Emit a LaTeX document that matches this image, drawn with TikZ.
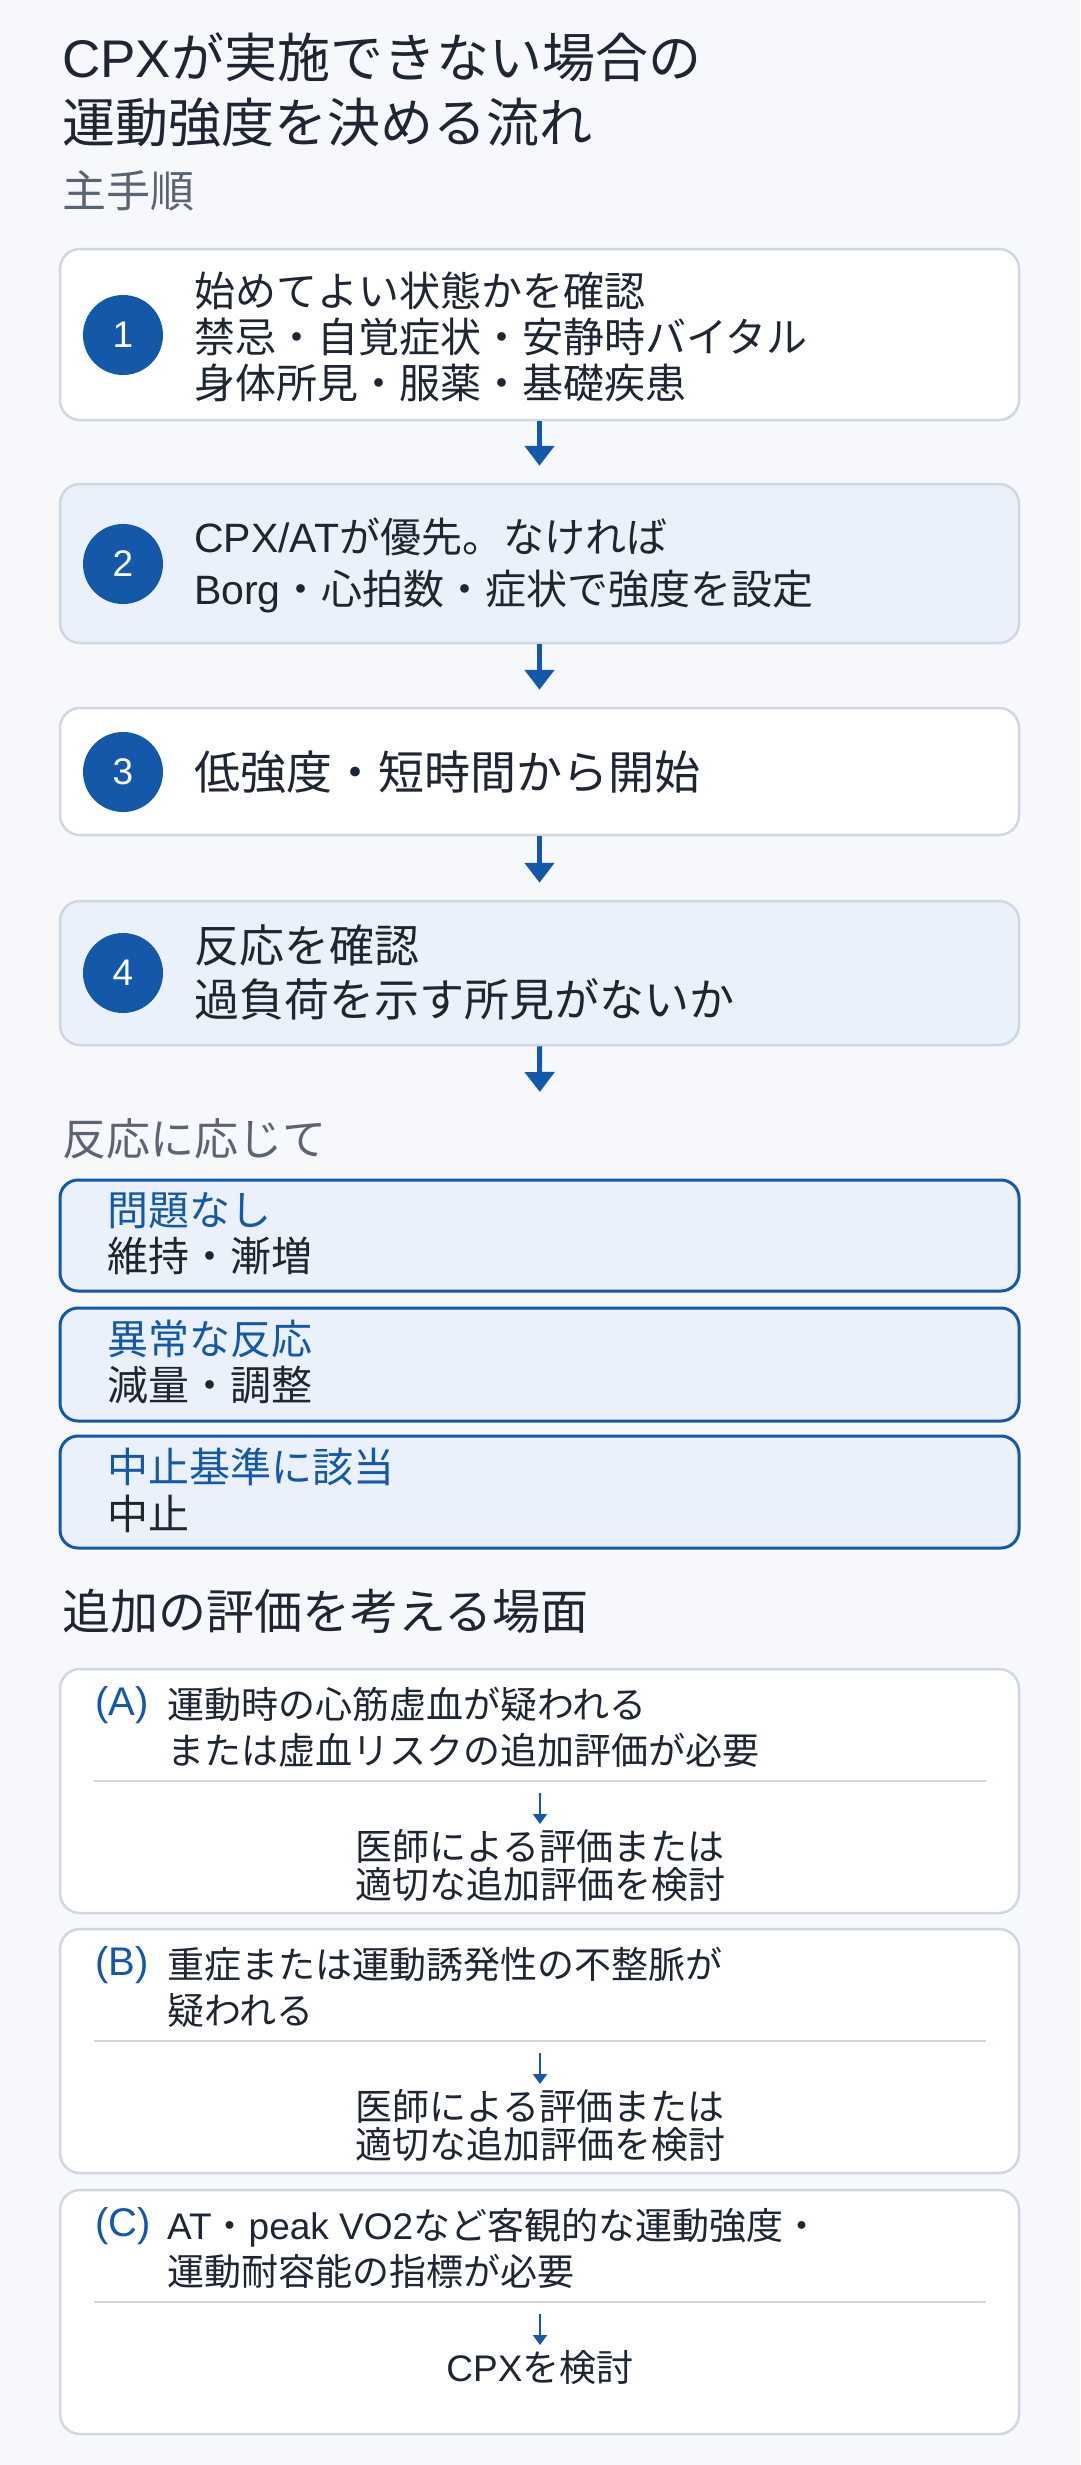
\documentclass[tikz,border=0pt]{standalone}
\usepackage{fontspec}
\setmainfont{Noto Sans CJK JP}
\newfontfamily\latfont{Liberation Sans}
\newcommand\lat[1]{{\latfont #1}}
\usepackage{tikz}
\usetikzlibrary{arrows.meta,positioning}

\definecolor{pagebg}{HTML}{F6F8FB}
\definecolor{cardline}{HTML}{CFD7E2}
\definecolor{softblue}{HTML}{EAF1FA}
\definecolor{mainblue}{HTML}{1459A9}
\definecolor{inkdark}{HTML}{1E2633}
\definecolor{inkgray}{HTML}{5B6472}

\tikzset{
  card/.style={draw=cardline, line width=2.5pt, rounded corners=20pt, fill=white,
    minimum width=959pt, inner sep=0pt},
  bluecard/.style={card, fill=softblue},
  outcome/.style={draw=mainblue, line width=3pt, rounded corners=18pt, fill=softblue,
    minimum width=959pt, inner sep=0pt},
  stepnum/.style={circle, fill=mainblue, text=white, minimum size=80pt, inner sep=0pt,
    font=\latfont\fontsize{37}{37}\selectfont},
  steptext/.style={anchor=west, align=left, inner sep=0pt, text=inkdark},
  heading/.style={anchor=west, inner sep=0pt},
  flowarrow/.style={draw=mainblue, line width=5pt, -{Triangle[width=29pt,length=20pt]},
    shorten >=17pt},
  smallarrow/.style={draw=mainblue, line width=2pt, -{Triangle[width=14pt,length=10pt]},
    shorten >=5pt},
  sepline/.style={draw=cardline, line width=2pt}
}

\begin{document}
\begin{tikzpicture}[x=1pt,y=-1pt]

\fill[pagebg] (0,0) rectangle (1080,2465);

%title
\node[heading, align=left, text=inkdark, font=\fontsize{53}{65}\selectfont] (title) at (62,89.5)
  {\lat{CPX}が実施できない場合の\\運動強度を決める流れ};
\node[heading, text=inkgray, font=\fontsize{44}{44}\selectfont] (mainhead) at (62,191) {主手順};

%main steps
\node[card, minimum height=171pt] (s1) at (539.5,334.5) {};
\node[bluecard, minimum height=159pt] (s2) at (539.5,563.5) {};
\node[card, minimum height=127pt] (s3) at (539.5,771.5) {};
\node[bluecard, minimum height=144pt] (s4) at (539.5,973) {};

\foreach \i/\y in {1/335,2/564,3/772,4/973}
  \node[stepnum] (n\i) at (123,\y) {\i};

\node[steptext, font=\fontsize{41}{46}\selectfont] (t1) at (194,337)
  {始めてよい状態かを確認\\禁忌・自覚症状・安静時バイタル\\身体所見・服薬・基礎疾患};
\node[steptext, font=\fontsize{41}{52}\selectfont] (t2) at (194,565)
  {\lat{CPX/AT}が優先。なければ\\\lat{Borg}・心拍数・症状で強度を設定};
\node[steptext, font=\fontsize{46}{46}\selectfont] (t3) at (194,772)
  {低強度・短時間から開始};
\node[steptext, font=\fontsize{45}{54}\selectfont] (t4) at (194,972)
  {反応を確認\\過負荷を示す所見がないか};

\coordinate (react) at (540,1109);
\draw[flowarrow] (s1.south) -- (s2.north);
\draw[flowarrow] (s2.south) -- (s3.north);
\draw[flowarrow] (s3.south) -- (s4.north);
\draw[flowarrow] (s4.south) -- (react);

%outcomes
\node[heading, text=inkgray, font=\fontsize{44}{44}\selectfont] (reacthead) at (62,1139) {反応に応じて};

\node[outcome, minimum height=111pt] (o1) at (539.5,1235.5) {};
\node[outcome, minimum height=113pt] (o2) at (539.5,1364.5) {};
\node[outcome, minimum height=112pt] (o3) at (539.5,1492) {};

\node[steptext, font=\fontsize{41}{46}\selectfont] (u1) at (107,1234)
  {\textcolor{mainblue}{問題なし}\\維持・漸増};
\node[steptext, font=\fontsize{41}{46}\selectfont] (u2) at (107,1362)
  {\textcolor{mainblue}{異常な反応}\\減量・調整};
\node[steptext, font=\fontsize{41}{47}\selectfont] (u3) at (107,1490)
  {\textcolor{mainblue}{中止基準に該当}\\中止};

%extra assessment
\node[heading, text=inkdark, font=\fontsize{48}{48}\selectfont] (extrahead) at (62,1611)
  {追加の評価を考える場面};

\foreach \key/\top/\cond/\res in {
  A/1669/{運動時の心筋虚血が疑われる\\または虚血リスクの追加評価が必要}/{医師による評価または\\適切な追加評価を検討},
  B/1929/{重症または運動誘発性の不整脈が\\疑われる}/{医師による評価または\\適切な追加評価を検討},
  C/2190/{\lat{AT}・\lat{peak VO2}など客観的な運動強度・\\運動耐容能の指標が必要}/{\lat{CPX}を検討}}
{
  \node[card, minimum height=244pt] (card\key) at (539.5,\top+122) {};
  \node[heading, text=mainblue, font=\latfont\fontsize{40}{40}\selectfont] (tag\key) at (95,\top+36) {(\key)};
  \node[steptext, font=\fontsize{37}{46}\selectfont] (cond\key) at (167,\top+58) {\cond};
  \draw[sepline] (94,\top+112) -- (986,\top+112);
  \coordinate (from\key) at (540,\top+124);
  \node[anchor=north, align=center, inner sep=0pt, text=inkdark, font=\fontsize{37}{38}\selectfont]
    (res\key) at (540,\top+160) {\res};
  \draw[smallarrow] (from\key) -- (res\key.north);
}

\end{tikzpicture}
\end{document}
